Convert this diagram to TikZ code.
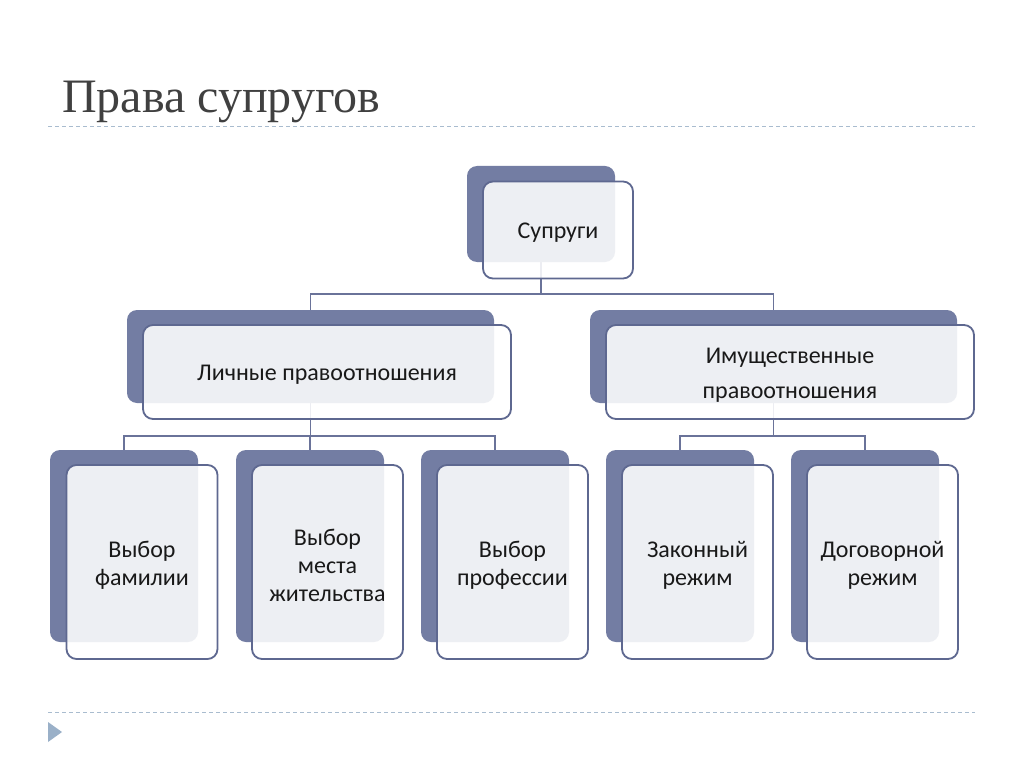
\documentclass[tikz,border=0pt]{standalone}
\usepackage{fontspec}
\setmainfont{Carlito}
\newfontfamily\titlefont{Liberation Serif}
\pgfdeclarelayer{bottom}
\pgfdeclarelayer{background}
\pgfsetlayers{bottom,background,main}
\definecolor{backc}{HTML}{737DA3}
\definecolor{borderc}{HTML}{5E6890}
\definecolor{connc}{HTML}{6A7399}
\definecolor{dashc}{HTML}{A9BCCF}
\definecolor{tric}{HTML}{9AB0C8}
\definecolor{titlec}{HTML}{404040}
\tikzset{
  backbox/.style={fill=backc, draw=none, rounded corners=10pt, inner sep=0pt},
  frontbox/.style={fill=white, fill opacity=0.88, draw=borderc, line width=1.8pt,
    rounded corners=10pt, inner sep=0pt},
  boxtext/.style={align=center, inner sep=0pt, text=black!90, yshift=-3pt,
    font=\fontsize{24}{28}\selectfont},
  conn/.style={draw=connc, line width=1.8pt},
  sep/.style={draw=dashc, line width=1pt, dash pattern=on 4pt off 3pt},
  topc/.style={minimum width=148pt, minimum height=96pt},
  topf/.style={minimum width=150pt, minimum height=97pt},
  midc/.style={minimum width=367pt, minimum height=93pt},
  midf/.style={minimum width=368pt, minimum height=94pt},
  lowc/.style={minimum width=148pt, minimum height=192pt},
  lowf/.style={minimum width=151pt, minimum height=194pt}
}
\begin{document}
\begin{tikzpicture}[x=1pt,y=-1pt]
\begin{pgfonlayer}{bottom}
\fill[white] (0,0) rectangle (1024,767);
\end{pgfonlayer}
\useasboundingbox (0,0) rectangle (1024,767);
% title and separators
\node[anchor=base west, inner sep=0pt, text=titlec, font=\titlefont\fontsize{48}{56}\selectfont] (title) at (62,113) {Права супругов};
\coordinate (s1a) at (48,127); \coordinate (s1b) at (975,127);
\coordinate (s2a) at (48,712); \coordinate (s2b) at (975,712);
\draw[sep] (s1a) -- (s1b);
\draw[sep] (s2a) -- (s2b);
\coordinate (t1) at (48,722); \coordinate (t2) at (48,742); \coordinate (t3) at (62,732);
\fill[tric] (t1) -- (t2) -- (t3) -- cycle;
% back boxes
\node[backbox, topc] (b0) at (541,214) {};
\node[backbox, midc] (bL) at (310.5,356.5) {};
\node[backbox, midc] (bR) at (773.5,356.5) {};
\node[backbox, lowc] (c1) at (124,546) {};
\node[backbox, lowc] (c2) at (310,546) {};
\node[backbox, lowc] (c3) at (495,546) {};
\node[backbox, lowc] (c4) at (680,546) {};
\node[backbox, lowc] (c5) at (865,546) {};
% front boxes
\node[frontbox, topf] (f0) at (558,230) {};
\node[frontbox, midf] (fL) at (327,372) {};
\node[frontbox, midf] (fR) at (790,372) {};
\node[frontbox, lowf] (g1) at (142,562) {};
\node[frontbox, lowf] (g2) at (327.5,562) {};
\node[frontbox, lowf] (g3) at (512.5,562) {};
\node[frontbox, lowf] (g4) at (697.5,562) {};
\node[frontbox, lowf] (g5) at (882.5,562) {};
% texts
\node[boxtext] (f0t) at (f0.center) {Супруги};
\node[boxtext] (fLt) at (fL.center) {Личные правоотношения};
\node[boxtext, font=\fontsize{24}{35}\selectfont] (fRt) at (fR.center) {Имущественные\\правоотношения};
\node[boxtext] (g1t) at (g1.center) {Выбор\\фамилии};
\node[boxtext] (g2t) at (g2.center) {Выбор\\места\\жительства};
\node[boxtext] (g3t) at (g3.center) {Выбор\\профессии};
\node[boxtext] (g4t) at (g4.center) {Законный\\режим};
\node[boxtext] (g5t) at (g5.center) {Договорной\\режим};
% connectors
\begin{pgfonlayer}{background}
\draw[conn] (b0.south) -- ++(0,32) coordinate (j0);
\draw[conn] (j0) -| (bL.north);
\draw[conn] (j0) -| (bR.north);
\draw[conn] (bL.south) -- ++(0,33) coordinate (j1);
\draw[conn] (j1) -| (c1.north);
\draw[conn] (j1) -| (c2.north);
\draw[conn] (j1) -| (c3.north);
\draw[conn] (bR.south) -- ++(0,33) coordinate (j2);
\draw[conn] (j2) -| (c4.north);
\draw[conn] (j2) -| (c5.north);
\end{pgfonlayer}
\end{tikzpicture}
\end{document}
